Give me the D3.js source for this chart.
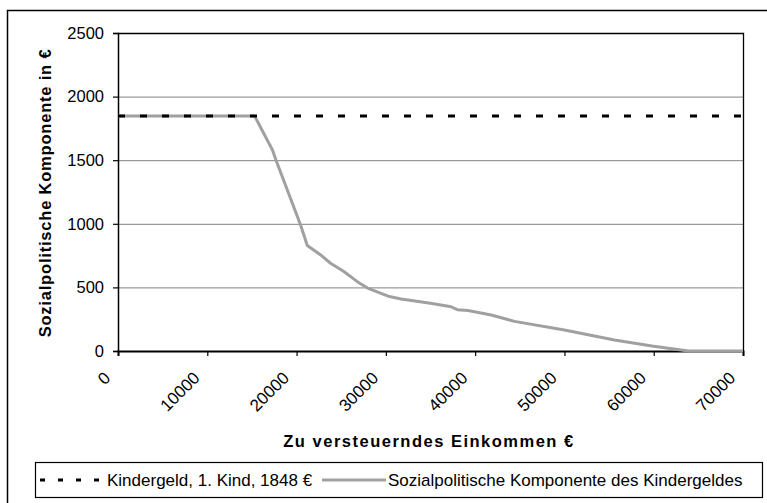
<!DOCTYPE html>
<html>
<head>
<meta charset="utf-8">
<script src="https://cdn.jsdelivr.net/npm/d3@7"></script>
<style>
  body { margin: 0; background: #fff; }
  svg { font-family: "Liberation Sans", Arial, sans-serif; }
</style>
</head>
<body>
<div id="chart"></div>
<script>
// income (x) and values
var income = [0, 15300, 17300, 17700, 20450, 21200, 22700, 23800, 25300, 26800, 27950, 30400, 31700, 35000, 37300, 38000, 39200, 41800, 44400, 50000, 55600, 59800, 63900, 70000];
var sozialValues = [1848, 1848, 1580, 1500, 990, 830, 755, 690, 625, 545, 495, 428, 409, 375, 348, 325, 318, 283, 233, 165, 86, 39, 0, 0];
var kindergeldX = [0, 70000];
var kindergeldValues = [1848, 1848];
var xTicks = [0, 10000, 20000, 30000, 40000, 50000, 60000, 70000];
var yTicks = [0, 500, 1000, 1500, 2000, 2500];

var W = 767, H = 503;
var pLeft = 118, pRight = 743, pTop = 33, pBottom = 351;

var svg = d3.select("#chart").append("svg").attr("width", W).attr("height", H);

// outer frame (cut off at right/bottom like the picture)
svg.append("path")
  .attr("d", "M7.5," + H + "V10.5H" + W)
  .attr("fill", "none").attr("stroke", "#000").attr("stroke-width", 1.5);

var x = d3.scaleLinear().domain([0, 70000]).range([pLeft, pRight]);
var y = d3.scaleLinear().domain([0, 2500]).range([pBottom, pTop]);

// gridlines
svg.append("g").selectAll("line")
  .data(yTicks.filter(function(d) { return d > 0 && d < 2500; }))
  .enter().append("line")
    .attr("x1", pLeft).attr("x2", pRight)
    .attr("y1", function(d) { return y(d) + 0.5; })
    .attr("y2", function(d) { return y(d) + 0.5; })
    .attr("stroke", "#808080").attr("stroke-width", 1);

// plot border top/right
svg.append("path")
  .attr("d", "M" + pLeft + "," + (pTop + 0.5) + "H" + (pRight + 0.5) + "V" + pBottom)
  .attr("fill", "none").attr("stroke", "#000").attr("stroke-width", 1.3);

// y axis
var yAxis = svg.append("g")
  .attr("transform", "translate(" + pLeft + ",0)")
  .call(d3.axisLeft(y).tickValues(yTicks).tickSize(5).tickPadding(9).tickFormat(d3.format("d")));
yAxis.select(".domain").attr("stroke-width", 1.5);
yAxis.selectAll(".tick line").attr("stroke-width", 1.2);
yAxis.selectAll("text").attr("font-size", "16.5px").attr("fill", "#000")
  .attr("font-family", "Liberation Sans, Arial, sans-serif");

// x axis
var xAxis = svg.append("g")
  .attr("transform", "translate(0," + pBottom + ")")
  .call(d3.axisBottom(x).tickValues(xTicks).tickSize(5).tickFormat(d3.format("d")));
xAxis.select(".domain").attr("stroke-width", 2);
xAxis.selectAll(".tick line").attr("stroke-width", 1.2);
xAxis.selectAll("text")
  .attr("font-size", "17px").attr("fill", "#000")
  .attr("font-family", "Liberation Sans, Arial, sans-serif")
  .attr("text-anchor", "end")
  .attr("y", 0).attr("dy", 0)
  .attr("transform", "translate(-7,28) rotate(-45)");

// series
var line = d3.line()
  .x(function(d) { return x(d[0]); })
  .y(function(d) { return y(d[1]); });

svg.append("path")
  .datum(d3.zip(income, sozialValues))
  .attr("d", line)
  .attr("fill", "none").attr("stroke", "#a0a0a0").attr("stroke-width", 3)
  .attr("stroke-linejoin", "round");

svg.append("path")
  .datum(d3.zip(kindergeldX, kindergeldValues))
  .attr("d", line)
  .attr("fill", "none").attr("stroke", "#000").attr("stroke-width", 3)
  .attr("stroke-dasharray", "7,15");

// axis titles
svg.append("text")
  .attr("transform", "translate(51," + ((pTop + pBottom) / 2 + 1) + ") rotate(-90)")
  .attr("text-anchor", "middle")
  .attr("font-size", "16.5px").attr("font-weight", "bold")
  .attr("letter-spacing", "0.8px")
  .text("Sozialpolitische Komponente in €");

svg.append("text")
  .attr("x", 429).attr("y", 447)
  .attr("text-anchor", "middle")
  .attr("font-size", "16.5px").attr("font-weight", "bold")
  .attr("letter-spacing", "1.5px")
  .text("Zu versteuerndes Einkommen €");

// legend
var lg = svg.append("g");
lg.append("rect")
  .attr("x", 35.5).attr("y", 462.5).attr("width", 727).attr("height", 35)
  .attr("fill", "#fff").attr("stroke", "#000").attr("stroke-width", 1.2);
lg.append("line")
  .attr("x1", 40).attr("x2", 106).attr("y1", 480).attr("y2", 480)
  .attr("stroke", "#000").attr("stroke-width", 3).attr("stroke-dasharray", "5,13");
lg.append("text").attr("x", 107).attr("y", 486).attr("font-size", "17px")
  .text("Kindergeld, 1. Kind, 1848 €");
lg.append("line")
  .attr("x1", 322).attr("x2", 386).attr("y1", 480).attr("y2", 480)
  .attr("stroke", "#a0a0a0").attr("stroke-width", 3);
lg.append("text").attr("x", 388).attr("y", 486).attr("font-size", "17px")
  .text("Sozialpolitische Komponente des Kindergeldes");
</script>
</body>
</html>
